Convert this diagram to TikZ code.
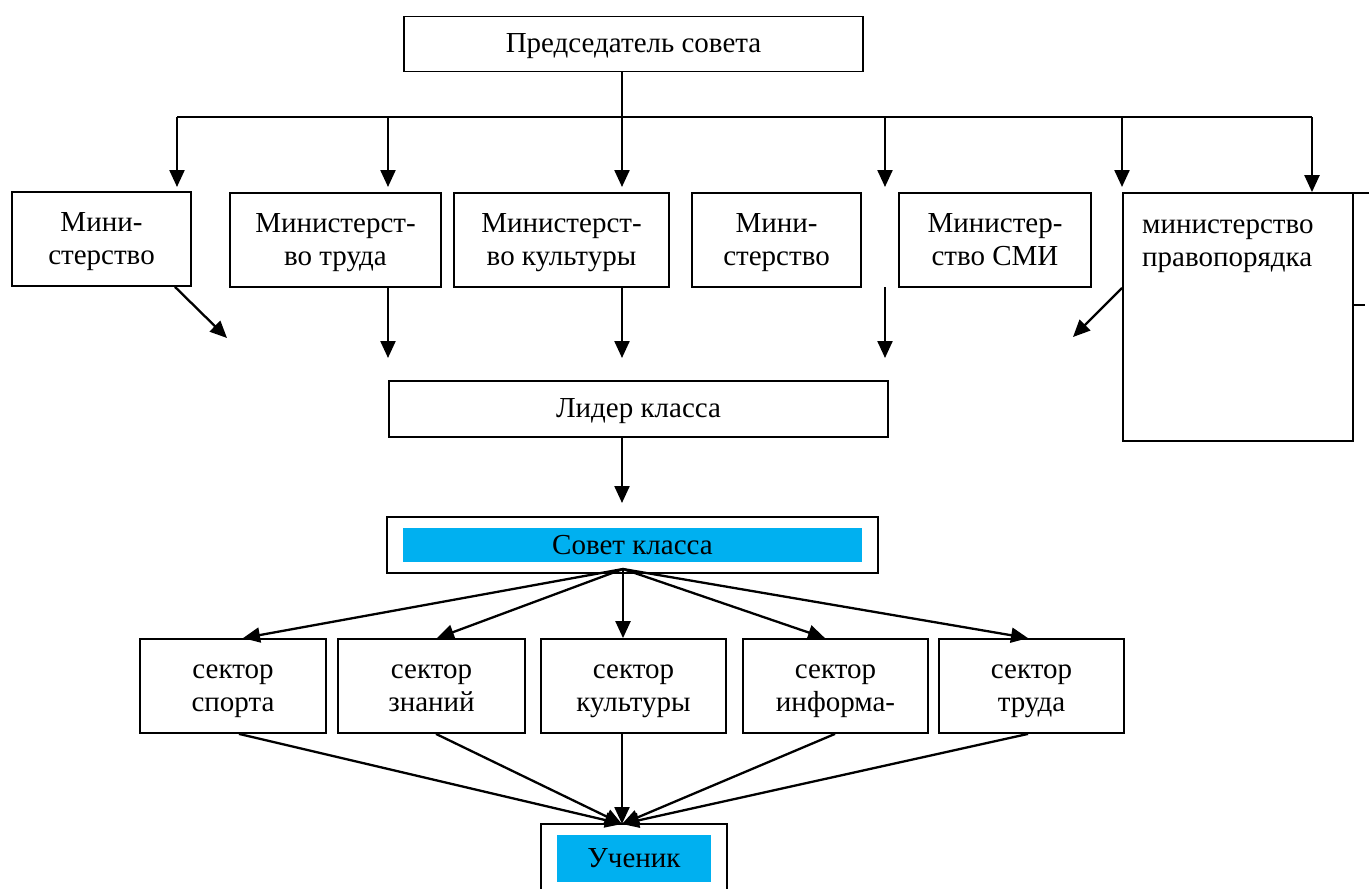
\documentclass[tikz,border=0pt]{standalone}
\usepackage{fontspec}
\setmainfont{Liberation Serif}
\usetikzlibrary{arrows.meta,calc}
\definecolor{cyanfill}{HTML}{00B0F0}
\newcommand{\mystrut}{\rule[-6pt]{0pt}{30pt}}
\newcommand{\twolines}[2]{\mystrut #1\\\mystrut #2}
\begin{document}
\begin{tikzpicture}[x=1pt,y=-1pt,
  box/.style={draw,line width=1.8pt,rectangle,inner sep=0pt,align=center,
    font=\fontsize{29}{33}\selectfont,execute at begin node=\mystrut},
  fillbox/.style={fill=cyanfill,rectangle,inner sep=0pt,align=center,
    font=\fontsize{29}{33}\selectfont,execute at begin node=\mystrut},
  arr/.style={line width=2.3pt,-{Triangle[length=17pt,width=15pt]}},
  ln/.style={line width=1.8pt}]
\useasboundingbox (0,0) rectangle (1369,889);
\clip (0,0) rectangle (1369,889);
% top
\node[box,minimum width=459pt,minimum height=55pt] (chair) at (633.5,44) {Председатель совета};
% ministries
\node[box,minimum width=179pt,minimum height=94pt] (m1) at (101.5,239) {\twolines{Мини-}{стерство}};
\node[box,minimum width=211pt,minimum height=94pt] (m2) at (335.5,240) {\twolines{Министерст-}{во труда}};
\node[box,minimum width=215pt,minimum height=94pt] (m3) at (561.5,240) {\twolines{Министерст-}{во культуры}};
\node[box,minimum width=169pt,minimum height=94pt] (m4) at (776.5,240) {\twolines{Мини-}{стерство}};
\node[box,minimum width=192pt,minimum height=94pt] (m5) at (995,240) {\twolines{Министер-}{ство СМИ}};
\node[box,minimum width=230pt,minimum height=248pt] (m6) at (1238,317) {};
\node[anchor=north west,inner sep=0pt,align=left,font=\fontsize{29}{33}\selectfont] (m6t) at (1142,209) {\twolines{министерство}{правопорядка}};
\draw[ln] (1252,193) -- (1369,193);
\draw[ln] (m6.east |- 0,305) -- (1365,305);
% leader
\node[box,minimum width=499pt,minimum height=56pt] (leader) at (638.5,409) {Лидер класса};
% council
\node[box,minimum width=491pt,minimum height=56pt] (council) at (632.5,545) {};
\node[fillbox,minimum width=459pt,minimum height=34pt] (councilt) at (632.5,545) {Совет класса};
% sectors
\node[box,minimum width=186pt,minimum height=94pt] (s1) at (233,686) {\twolines{сектор}{спорта}};
\node[box,minimum width=187pt,minimum height=94pt] (s2) at (431.5,686) {\twolines{сектор}{знаний}};
\node[box,minimum width=185pt,minimum height=94pt] (s3) at (633.5,686) {\twolines{сектор}{культуры}};
\node[box,minimum width=185pt,minimum height=94pt] (s4) at (835.5,686) {\twolines{сектор}{информа-}};
\node[box,minimum width=185pt,minimum height=94pt] (s5) at (1031.5,686) {\twolines{сектор}{труда}};
% pupil
\node[box,minimum width=186pt,minimum height=90pt] (pupil) at (634,869) {};
\node[fillbox,minimum width=154pt,minimum height=47pt] (pupilt) at (634,858.5) {Ученик};
% bus coordinates
\coordinate (bus0) at (622,117);
\coordinate (b1) at (177,117);
\coordinate (b2) at (388,117);
\coordinate (b4) at (885,117);
\coordinate (b5) at (1122,117);
\coordinate (b6) at (1312,117);
\coordinate (t1) at (177,187);
\coordinate (t2) at (388,187);
\coordinate (t3) at (622,187);
\coordinate (t4) at (885,187);
\coordinate (t5) at (1122,187);
\draw[ln] (b1) -- (b6);
\draw[arr] (chair.south -| bus0) -- (t3);
\draw[arr] (b1) -- (t1);
\draw[arr] (b2) -- (t2);
\draw[arr] (b4) -- (t4);
\draw[arr] (b5) -- (t5);
\draw[arr] (b6) -- (b6 |- m6.north);
% lower arrows to leader
\coordinate (f1) at (227,338);
\coordinate (f2) at (388,358);
\coordinate (f3) at (622,358);
\coordinate (f4s) at (885,287);
\coordinate (f4) at (885,358);
\coordinate (f6) at (1073,337);
\draw[arr] (m1.south -| 175,0) -- (f1);
\draw[arr] (m2.south -| f2) -- (f2);
\draw[arr] (m3.south -| f3) -- (f3);
\draw[arr] (f4s) -- (f4);
\draw[arr] (m6.west |- 0,288) -- (f6);
% leader to council
\coordinate (lc) at (622,503);
\draw[arr] (leader.south -| lc) -- (lc);
% council to sectors
\coordinate (cs) at (623,569);
\draw[arr] (cs) -- (s1.north -| 243,0);
\draw[arr] (cs) -- (s2.north -| 437,0);
\draw[arr] (cs) -- (s3.north -| 623,0);
\draw[arr] (cs) -- (s4.north -| 825,0);
\draw[arr] (cs) -- (s5.north -| 1028,0);
% sectors to pupil
\coordinate (pt) at (622,824);
\draw[arr] (s1.south -| 239,0) -- (pt);
\draw[arr] (s2.south -| 436,0) -- (pt);
\draw[arr] (s3.south -| 622,0) -- (pt);
\draw[arr] (s4.south -| 835,0) -- (pt);
\draw[arr] (s5.south -| 1028,0) -- (pt);
\end{tikzpicture}
\end{document}
